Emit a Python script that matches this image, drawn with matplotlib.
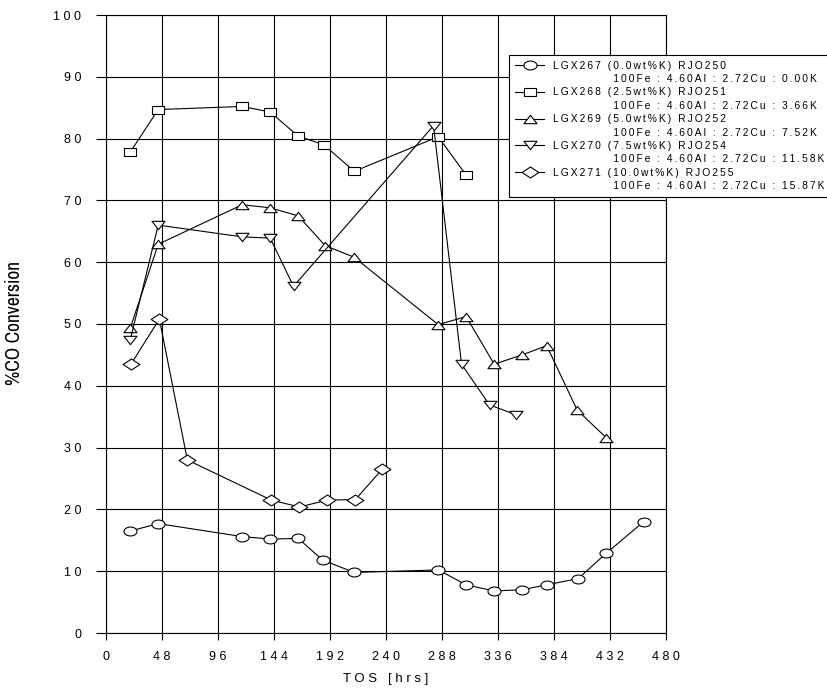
import matplotlib
matplotlib.use("Agg")
import matplotlib.pyplot as plt
from matplotlib import font_manager
from matplotlib.lines import Line2D
from matplotlib.path import Path
from matplotlib.transforms import Affine2D

plt.rcParams['font.family'] = ['Liberation Sans', 'DejaVu Sans']

# Time on stream (hrs) and %CO conversion for each catalyst
tos_267 = [21, 45, 117, 141, 165, 186, 213, 285, 309, 333, 357, 378, 405, 429, 461]
co_267 = [16.5, 17.7, 15.6, 15.2, 15.3, 11.8, 9.8, 10.2, 7.8, 6.8, 7.0, 7.8, 8.8, 12.9, 18.0]

tos_268 = [21, 45, 117, 141, 165, 187, 213, 285, 309]
co_268 = [77.8, 84.7, 85.2, 84.3, 80.4, 79.0, 74.7, 80.3, 74.1]

tos_269 = [21, 45, 117, 141, 165, 188, 213, 285, 309, 333, 357, 378, 404, 429]
co_269 = [49.3, 62.9, 69.3, 68.8, 67.5, 62.7, 60.8, 49.9, 51.2, 43.5, 45.0, 46.5, 36.1, 31.6]

tos_270 = [21, 45, 117, 141, 161, 281, 305, 329, 352]
co_270 = [47.4, 66.0, 64.1, 63.9, 56.1, 82.1, 43.5, 36.9, 35.3]

tos_271 = [22, 46, 70, 142, 166, 190, 214, 237]
co_271 = [43.6, 50.8, 28.0, 21.5, 20.4, 21.5, 21.6, 26.5]

sample_names = [
    "LGX267 (0.0wt%K) RJO250",
    "LGX268 (2.5wt%K) RJO251",
    "LGX269 (5.0wt%K) RJO252",
    "LGX270 (7.5wt%K) RJO254",
    "LGX271 (10.0wt%K) RJO255",
]
compositions = [
    "100Fe : 4.60Al : 2.72Cu : 0.00K",
    "100Fe : 4.60Al : 2.72Cu : 3.66K",
    "100Fe : 4.60Al : 2.72Cu : 7.52K",
    "100Fe : 4.60Al : 2.72Cu : 11.58K",
    "100Fe : 4.60Al : 2.72Cu : 15.87K",
]

x_ticks = list(range(0, 481, 48))
y_ticks = list(range(0, 101, 10))


def spaced(s, gap=' '):
    """Letter-spaced text."""
    return gap.join(s)


def legend_spaced(s):
    return '\u2009'.join(s)


# Flattened marker shapes
ellipse = Path.unit_circle().transformed(Affine2D().scale(1.0, 0.68))
rect = Path([(-1, -0.63), (1, -0.63), (1, 0.63), (-1, 0.63), (-1, -0.63)],
            [Path.MOVETO, Path.LINETO, Path.LINETO, Path.LINETO, Path.CLOSEPOLY])
tri_up = Path([(-1, -0.64), (1, -0.64), (0, 0.64), (-1, -0.64)],
              [Path.MOVETO, Path.LINETO, Path.LINETO, Path.CLOSEPOLY])
tri_down = Path([(-1, 0.64), (1, 0.64), (0, -0.64), (-1, 0.64)],
                [Path.MOVETO, Path.LINETO, Path.LINETO, Path.CLOSEPOLY])
diamond = Path([(-1, 0), (0, 0.66), (1, 0), (0, -0.66), (-1, 0)],
               [Path.MOVETO, Path.LINETO, Path.LINETO, Path.LINETO, Path.CLOSEPOLY])

W, H = 827, 690
fig = plt.figure(figsize=(W / 100, H / 100), dpi=100)
ax = fig.add_axes([105.7 / W, (H - 633) / H, 560 / W, 618 / H])

series = [
    (tos_267, co_267, ellipse, 9.4),
    (tos_268, co_268, rect, 9.2),
    (tos_269, co_269, tri_up, 9.4),
    (tos_270, co_270, tri_down, 9.4),
    (tos_271, co_271, diamond, 12.0),
]

handles = []
for x, y, m, ms in series:
    h, = ax.plot(x, y, color='black', lw=0.8, marker=m, markersize=ms,
                 markerfacecolor='white', markeredgecolor='black',
                 markeredgewidth=0.8, zorder=3)
    handles.append(h)

ax.set_xlim(0, 480)
ax.set_ylim(0, 100)
ax.set_xticks(x_ticks)
ax.set_yticks(y_ticks)
ax.set_xticklabels([spaced(str(v)) for v in x_ticks])
ax.set_yticklabels([spaced(str(v)) for v in y_ticks])
ax.tick_params(axis='x', direction='out', length=5, width=0.8, pad=8, labelsize=9)
ax.tick_params(axis='y', direction='out', length=7.5, width=0.8, pad=10, labelsize=9)
ax.grid(True, color='black', lw=0.8)
ax.set_axisbelow(True)
for s in ax.spines.values():
    s.set_linewidth(0.8)

ax.set_xlabel(spaced('TOS [hrs]'), fontsize=9.5, labelpad=7)

# narrow face for the vertical axis title when one is available
narrow = sorted({f.name for f in font_manager.fontManager.ttflist
                 if 'Narrow' in f.name or 'Condensed' in f.name})
if narrow:
    ylab_family, ylab_size = [narrow[0], 'Liberation Sans'], 14.0
else:
    ylab_family, ylab_size = ['Liberation Sans', 'DejaVu Sans'], 12.0
fig.text(15 / W, 1 - 323 / H, '%CO Conversion', rotation=90, ha='center', va='center',
         fontsize=ylab_size, family=ylab_family)

# legend: each sample takes two rows, the composition row has no key
leg_handles, leg_labels = [], []
blank = Line2D([], [], linestyle='none', marker=None)
for h, name, comp in zip(handles, sample_names, compositions):
    leg_handles += [h, blank]
    leg_labels += [legend_spaced(name), ' ' * 21 + legend_spaced(comp)]

leg = ax.legend(leg_handles, leg_labels, loc='upper left',
                bbox_to_anchor=(509 / W, 1 - 55 / H), bbox_transform=fig.transFigure,
                fontsize=7.4, frameon=True, fancybox=False, shadow=False,
                borderpad=0.55, labelspacing=0.33, handlelength=2.9, handletextpad=0.85,
                borderaxespad=0, framealpha=1, edgecolor='black')
leg.get_frame().set_linewidth(0.8)
leg.set_zorder(5)

fig.savefig('out.png', dpi=100)
